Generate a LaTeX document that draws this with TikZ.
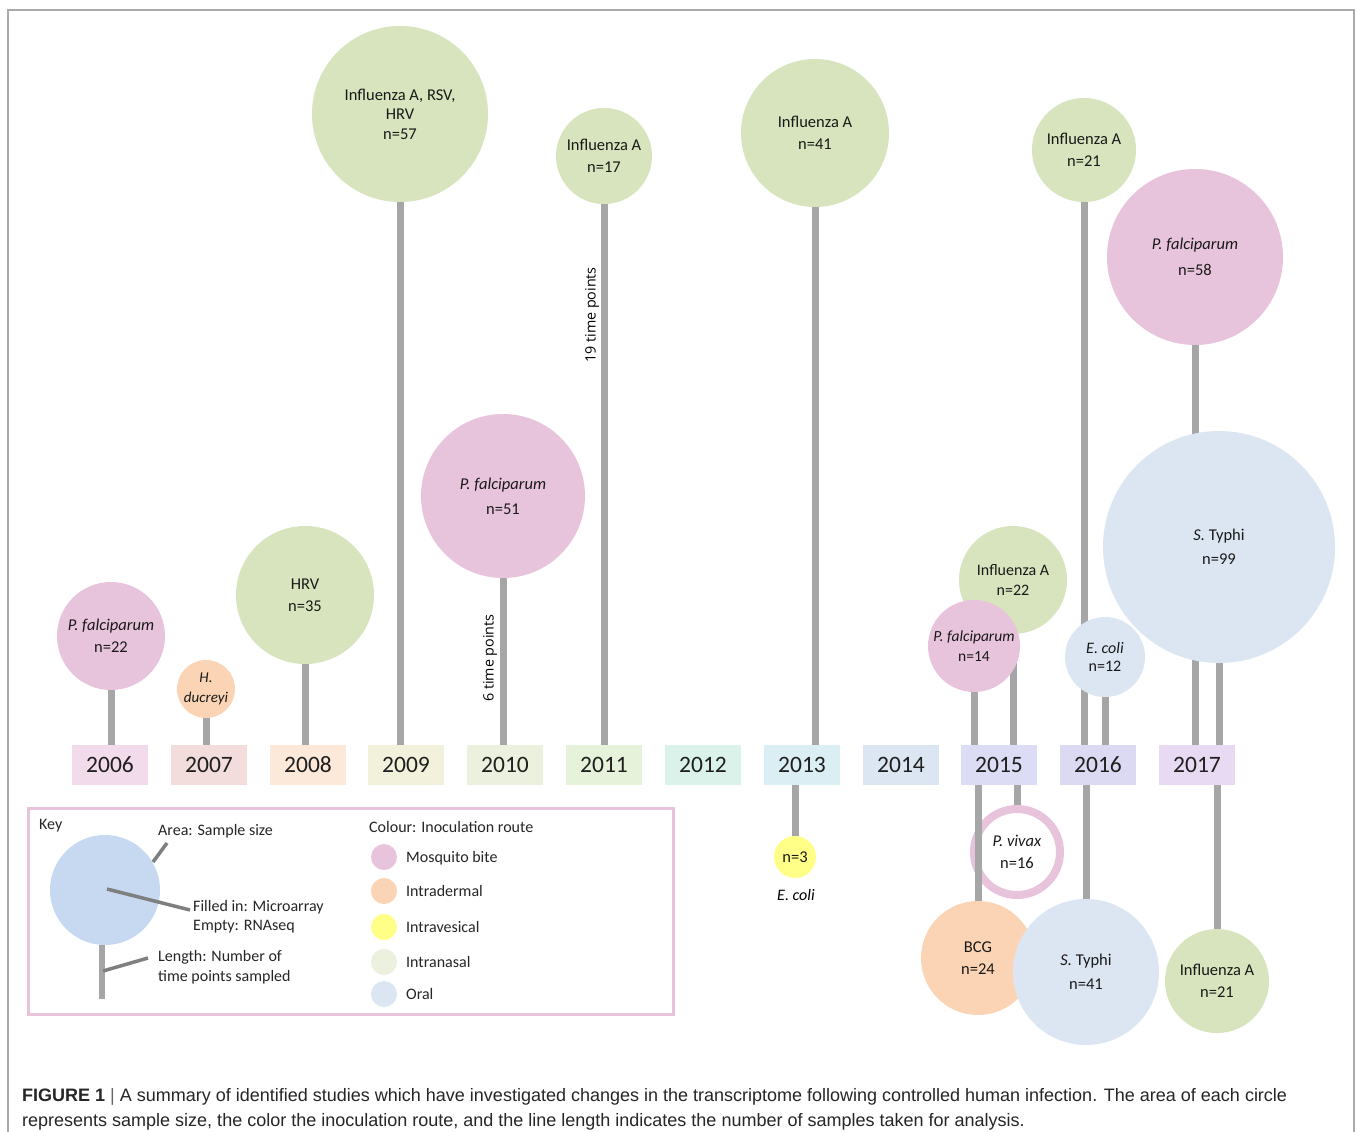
\documentclass[tikz,border=0pt]{standalone}
\usepackage{fontspec}
\setmainfont{Carlito}
\newfontfamily\opensans{Open Sans}
\newfontfamily\capfont{Liberation Sans}
\definecolor{stemgray}{HTML}{A6A6A6}
\definecolor{framegray}{HTML}{AAAAAA}
\definecolor{keyline}{HTML}{7F7F7F}
\definecolor{cgreen}{HTML}{D7E4BD}
\definecolor{cpink}{HTML}{E8C4DC}
\definecolor{corange}{HTML}{FAD4B4}
\definecolor{cblue}{HTML}{DCE6F2}
\definecolor{cyellow}{HTML}{FFFF88}
\definecolor{ckeyblue}{HTML}{C6D9F1}
\definecolor{clgreen}{HTML}{EBF1DE}
\definecolor{ya}{HTML}{F2DCEB}
\definecolor{yb}{HTML}{F2DCDC}
\definecolor{yc}{HTML}{FDE9D9}
\definecolor{yd}{HTML}{F2F2DC}
\definecolor{ye}{HTML}{EBF1DE}
\definecolor{yf}{HTML}{E6F2DA}
\definecolor{yg}{HTML}{DAF2EA}
\definecolor{yh}{HTML}{DAEEF3}
\definecolor{yi}{HTML}{DCE6F2}
\definecolor{yj}{HTML}{DCDCF5}
\definecolor{yk}{HTML}{DCDAF2}
\definecolor{yl}{HTML}{E8DAF2}
\pgfdeclarelayer{paper}
\pgfdeclarelayer{stems}
\pgfsetlayers{paper,stems,main}
\begin{document}
\begin{tikzpicture}[x=1pt,y=-1pt,
  bub/.style={circle, inner sep=0pt, align=center, text=black!90, font=\fontsize{16.5}{22}\selectfont},
  yearbox/.style={minimum width=76pt, minimum height=40pt, inner sep=0pt, text=black!88, font=\fontsize{23.5}{25}\selectfont},
  stem/.style={line width=7pt, draw=stemgray},
  keytext/.style={anchor=base west, inner sep=0pt, text=black!85, font=\fontsize{16}{18}\selectfont},
  keyline/.style={line width=3.5pt, draw=keyline},
  legdot/.style={circle, inner sep=0pt, minimum size=26pt},
  rottext/.style={rotate=90, inner sep=0pt, font=\opensans\fontsize{14.3}{16}\selectfont},
  captext/.style={anchor=base west, inner sep=0pt, text=black!85, font=\capfont\fontsize{18}{20}\selectfont}]
\useasboundingbox (0,0) rectangle (1357,1132);
\begin{pgfonlayer}{paper}
\fill[white] (0,0) rectangle (1357,1132);
\end{pgfonlayer}
\draw[framegray, line width=1.8pt] (8,1140) -- (8,10) -- (1354,10) -- (1354,1140);

% year boxes
\node[yearbox, fill=ya] (y06) at (110,765) {2006};
\node[yearbox, fill=yb] (y07) at (209,765) {2007};
\node[yearbox, fill=yc] (y08) at (308,765) {2008};
\node[yearbox, fill=yd] (y09) at (406,765) {2009};
\node[yearbox, fill=ye] (y10) at (505,765) {2010};
\node[yearbox, fill=yf] (y11) at (604,765) {2011};
\node[yearbox, fill=yg] (y12) at (703,765) {2012};
\node[yearbox, fill=yh] (y13) at (802,765) {2013};
\node[yearbox, fill=yi] (y14) at (901,765) {2014};
\node[yearbox, fill=yj] (y15) at (999,765) {2015};
\node[yearbox, fill=yk] (y16) at (1098,765) {2016};
\node[yearbox, fill=yl] (y17) at (1197,765) {2017};

% circles above
\node[bub, fill=cpink, minimum size=108pt] (c06) at (111,636) {\textit{P. falciparum}\\n=22};
\node[bub, fill=corange, minimum size=58pt, font=\fontsize{15}{20}\selectfont] (c07) at (206,689) {\textit{H.}\\\textit{ducreyi}};
\node[bub, fill=cgreen, minimum size=138pt] (c08) at (305,595) {HRV\\n=35};
\node[bub, fill=cgreen, minimum size=176pt, font=\fontsize{16.5}{19.5}\selectfont] (c09) at (400,114) {Influenza A, RSV,\\HRV\\n=57};
\node[bub, fill=cpink, minimum size=164pt] (c10) at (503,496) {\textit{P. falciparum}\\[3pt]n=51};
\node[bub, fill=cgreen, minimum size=96pt] (c11) at (604,156) {Influenza A\\n=17};
\node[bub, fill=cgreen, minimum size=148pt] (c13) at (815,133) {Influenza A\\n=41};
\node[bub, fill=cgreen, minimum size=108pt, font=\fontsize{16}{19.5}\selectfont] (c15a) at (1013,580) {Influenza A\\n=22};
\node[bub, fill=cpink, minimum size=92pt, font=\fontsize{15.5}{20.5}\selectfont] (c15b) at (974,646) {\textit{P. falciparum}\\n=14};
\node[bub, fill=cgreen, minimum size=104pt] (c16a) at (1084,150) {Influenza A\\n=21};
\node[bub, fill=cblue, minimum size=80pt, font=\fontsize{16}{18}\selectfont] (c16b) at (1105,657) {\textit{E. coli}\\n=12};
\node[bub, fill=cpink, minimum size=176pt] (c17a) at (1195,257) {\textit{P. falciparum}\\[4pt]n=58};
\node[bub, fill=cblue, minimum size=232pt] (c17b) at (1219,547) {\textit{S.} Typhi\\[2pt]n=99};

% circles below
\node[bub, fill=cyellow, minimum size=42pt] (c13b) at (795,857) {n=3};
\node[inner sep=0pt, font=\fontsize{16}{18}\selectfont\itshape] (ecoli) at (796,895) {E. coli};
\node[bub, fill=white, draw=cpink, line width=8pt, minimum size=86pt] (c15v) at (1017,852) {\textit{P. vivax}\\n=16};
\node[bub, fill=corange, minimum size=114pt] (c15c) at (978,958) {BCG\\n=24};
\node[bub, fill=cblue, minimum size=146pt] (c16c) at (1086,972) {\textit{S.} Typhi\\[2pt]n=41};
\node[bub, fill=cgreen, minimum size=104pt] (c17c) at (1217,981) {Influenza A\\n=21};

% stems
\begin{pgfonlayer}{stems}
\draw[stem] (c06.south) -- (c06.south |- y06.north);
\draw[stem] (c07.south) -- (c07.south |- y07.north);
\draw[stem] (c08.south) -- (c08.south |- y08.north);
\draw[stem] (c09.south) -- (c09.south |- y09.north);
\draw[stem] (c10.south) -- (c10.south |- y10.north);
\draw[stem] (c11.south) -- (c11.south |- y11.north);
\draw[stem] (c13.south) -- (c13.south |- y13.north);
\draw[stem] (c15a.south) -- (c15a.south |- y15.north);
\draw[stem] (c15b.south) -- (c15b.south |- y15.north);
\draw[stem] (c16a.south) -- (c16a.south |- y16.north);
\draw[stem] (c16b.south) -- (c16b.south |- y16.north);
\draw[stem] (c17a.south) -- (c17a.south |- y17.north);
\draw[stem] (c17b.south) -- (c17b.south |- y17.north);
\draw[stem] (c13b.north |- y13.south) -- (c13b.north);
\draw[stem] (c15v.north |- y15.south) -- (c15v.north);
\draw[stem] (c16c.north |- y16.south) -- (c16c.north);
\draw[stem] (c17c.north |- y17.south) -- (c17c.north);
\end{pgfonlayer}
\draw[stem] (c15c.north |- y15.south) -- (c15c.north);

% rotated labels
\node[rottext] (t10) at (490,658) {6 time points};
\node[rottext] (t11) at (592,315) {19 time points};

% key
\draw[cpink, line width=3pt] (28,808) rectangle (673,1014);
\node[keytext] (kk) at (39,829) {Key};
\node[circle, inner sep=0pt, fill=ckeyblue, minimum size=110pt] (kc) at (105,890) {};
\coordinate (kstemend) at (102,999);
\draw[line width=6pt, stemgray] (kc.south -| kstemend) -- (kstemend);
\coordinate (ka1) at (153,862); \coordinate (ka2) at (167,843);
\draw[keyline] (ka1) -- (ka2);
\coordinate (kb1) at (107,889); \coordinate (kb2) at (190,910);
\draw[keyline] (kb1) -- (kb2);
\coordinate (kd1) at (103,971); \coordinate (kd2) at (148,958);
\draw[keyline] (kd1) -- (kd2);
\node[keytext] (ka) at (158,835) {Area: Sample size};
\node[keytext] (kb) at (193,911) {Filled in: Microarray};
\node[keytext] (kb2t) at (193,930) {Empty: RNAseq};
\node[keytext] (kd) at (158,961) {Length: Number of};
\node[keytext] (kd2t) at (158,981) {time points sampled};
\node[keytext] (kcol) at (369,832) {Colour: Inoculation route};
\node[legdot, fill=cpink] (l1) at (384,857) {};
\node[legdot, fill=corange] (l2) at (384,891) {};
\node[legdot, fill=cyellow] (l3) at (384,927) {};
\node[legdot, fill=clgreen] (l4) at (384,962) {};
\node[legdot, fill=cblue] (l5) at (384,994) {};
\node[keytext] (lt1) at (406,862) {Mosquito bite};
\node[keytext] (lt2) at (406,896) {Intradermal};
\node[keytext] (lt3) at (406,932) {Intravesical};
\node[keytext] (lt4) at (406,967) {Intranasal};
\node[keytext] (lt5) at (406,999) {Oral};

% caption
\node[captext] (cap1) at (22,1101) {\textbf{FIGURE 1} {\color{black!60}|} A summary of identified studies which have investigated changes in the transcriptome following controlled human infection. The area of each circle};
\node[captext] (cap2) at (22,1126) {represents sample size, the color the inoculation route, and the line length indicates the number of samples taken for analysis.};
\end{tikzpicture}
\end{document}
